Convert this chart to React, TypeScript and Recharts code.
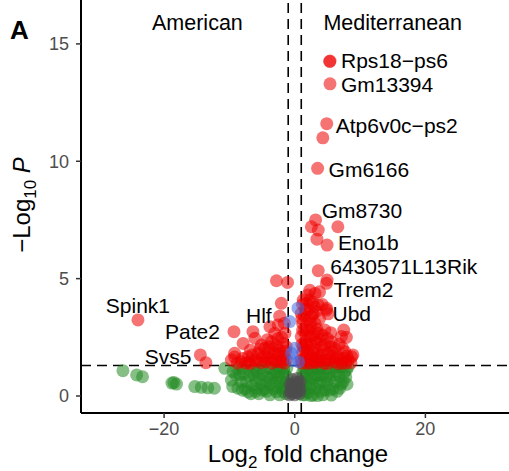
import React from 'react';
import { ScatterChart, Scatter, XAxis, YAxis, ReferenceLine, Label } from 'recharts';

type Pt = { x: number; y: number };
const pts = (a: number[][]): Pt[] => a.map(([x, y]) => ({ x, y }));

// log2FC and p-value significant
const sigPoints = pts([
  [5.4, 14.27], [5.35, 14.25], [5.4, 13.3], [4.9, 11.6], [4.3, 11.0], [3.5, 9.7],
  [3.2, 7.5], [2.55, 7.21], [3.6, 7.07], [3.4, 6.68], [6.6, 7.21], [4.95, 6.43],
  [3.6, 5.34], [4.95, 4.94], [4.86, 4.8], [-2.8, 4.91], [-1.1, 4.84],
  [2.3, 4.5], [3.8, 4.44], [3.1, 4.37], [2.0, 4.3], [1.3, 4.09], [3.6, 3.88], [4.86, 3.66], [5.1, 3.5], [4.86, 3.74],
  [1.0, 3.52], [2.0, 3.66], [2.0, 3.24], [3.1, 3.1], [1.2, 3.1], [2.3, 4.09], [1.8, 3.95],
  [-2.3, 3.4], [-2.55, 3.03], [-2.05, 3.95], [-3.8, 2.95], [-3.07, 2.67], [-1.5, 2.67], [-3.6, 2.31],
  [-1.8, 2.24], [-2.3, 1.96], [-4.6, 2.03], [-9.3, 2.74], [-6.4, 2.74], [-6.1, 2.46], [-7.9, 2.24], [-5.1, 2.17],
  [-24, 3.24], [-14.45, 1.75], [-13.6, 1.42],
  [4.6, 2.81], [7.5, 2.81], [7.15, 2.53], [7.9, 2.5], [5.6, 2.31], [7.66, 1.89], [8.9, 1.75], [8.7, 1.67],
  [6.1, 2.03], [1.5, 2.81], [3.1, 2.39], [4.1, 2.1], [5.1, 1.82], [6.6, 1.67], [8.2, 1.53], [1.3, 2.1],
  [1.0, 1.53], [2.6, 1.67], [4.1, 1.53], [6.1, 1.46], [1.0, 2.53], [2.3, 2.53], [3.6, 2.67],
  [-9.2, 1.66], [-9.2, 1.82], [-9.7, 1.53], [-8.2, 1.46], [-7.15, 1.67], [-6.1, 1.53], [-5.6, 1.82],
  [-4.6, 1.67], [-4.1, 1.6], [-3.07, 1.82], [-2.05, 1.67],
  [-7.5, 1.4], [-6.8, 1.38], [-5.2, 1.42], [-3.5, 1.4], [-2.6, 1.45], [-1.6, 1.4], [1.8, 1.4], [3.3, 1.42],
  [5.0, 1.38], [7.2, 1.4], [8.6, 1.42],
  [-6.8, 1.95], [-5.3, 2.0], [-3.9, 2.1], [-2.8, 2.15], [-1.4, 1.9], [-1.3, 1.55],
  [2.0, 1.95], [3.0, 2.0], [5.5, 2.1], [6.8, 2.2], [7.3, 2.05], [2.6, 2.9], [3.8, 3.3], [1.5, 3.4],
  [4.2, 2.6], [5.5, 2.7], [2.8, 3.5], [4.2, 3.9], [1.6, 2.3], [3.5, 1.8], [4.8, 1.55], [5.8, 1.7],
  [7.0, 1.55], [8.0, 1.7], [1.2, 1.85], [2.2, 1.55], [3.0, 1.45],
  [-8.8, 1.4], [-8.0, 1.6], [-7.0, 1.45], [-6.5, 1.75], [-5.8, 1.5], [-5.0, 1.65], [-4.5, 1.45],
  [-4.0, 1.85], [-3.6, 1.55], [-3.0, 1.5], [-2.5, 1.8], [-2.0, 1.45], [-1.6, 1.7], [-1.3, 2.1],
  [-2.0, 2.5], [-2.6, 2.45], [-1.6, 3.1], [-4.2, 2.4], [-3.3, 2.0],
  [1.1, 1.4], [1.5, 1.6], [1.9, 1.75], [2.4, 1.4], [2.8, 1.85], [3.2, 1.6], [3.7, 1.5], [4.0, 1.75],
  [4.5, 1.4], [4.4, 1.95], [5.3, 1.55], [5.7, 1.9], [6.3, 1.6], [6.6, 1.38], [7.5, 1.6], [7.8, 1.4],
  [1.1, 2.2], [1.5, 2.0], [1.9, 2.2], [2.5, 2.2], [3.3, 2.3], [3.9, 2.4], [4.6, 2.2], [5.0, 2.45],
  [1.2, 2.8], [1.7, 2.6], [2.1, 2.8], [2.9, 2.6], [3.4, 2.85], [1.1, 3.3], [1.6, 3.7], [2.4, 3.1],
  [2.6, 3.4], [3.3, 3.6], [1.2, 3.9], [2.7, 4.0], [3.0, 3.8],
]);

// log2FC only
const fcPoints = pts([
  [-26.3, 1.08], [-24.2, 0.9], [-23.3, 0.82], [-18.5, 0.57], [-18.1, 0.51], [-18.8, 0.55],
  [-15.3, 0.4], [-14.3, 0.37], [-13.3, 0.35], [-12.3, 0.33],
  [-10.7, 1.18], [-9.45, 1.04], [-9.7, 0.68], [-8.7, 0.33], [-8.4, 0.89], [-6.9, 1.1], [-7.4, 0.61],
  [-7.15, 0.18], [-5.9, 0.33], [-5.4, 0.75], [-4.86, 1.1], [-3.8, 0.47], [-3.3, 0.89], [-2.8, 0.18],
  [-2.3, 1.18], [-2.05, 0.61], [-1.5, 0.33],
  [-8.0, 1.2], [-7.8, 0.95], [-6.3, 0.9], [-6.5, 0.45], [-5.0, 0.5], [-4.3, 0.2], [-4.1, 0.8], [-3.5, 1.15],
  [-2.5, 0.8], [-1.6, 0.95], [-1.3, 0.6], [-1.2, 1.2], [-1.4, 0.1], [-3.2, 0.3], [-5.5, 0.1], [-6.2, 1.2],
  [-8.2, 0.6], [-9.0, 0.9], [-5.8, 1.0], [-4.6, 0.3], [-3.0, 0.6], [-2.0, 0.35], [-2.3, 0.05], [-3.8, 0.05],
  [-6.0, 0.2],
  [-9.5, 0.4], [-8.8, 1.15], [-8.0, 0.25], [-7.6, 0.3], [-7.0, 0.85], [-6.7, 0.1], [-6.0, 0.65],
  [-5.2, 1.2], [-5.0, 0.9], [-4.4, 0.6], [-4.0, 1.2], [-3.6, 0.75], [-3.0, 1.0], [-2.7, 0.4], [-2.2, 0.85],
  [-1.8, 0.2], [-1.7, 1.15], [-1.3, 0.85], [-1.2, 0.35], [-2.6, 1.25], [-4.9, 0.25],
  [1.8, 1.18], [3.3, 0.89], [4.86, 1.18], [6.4, 1.04], [7.9, 1.1], [7.4, 0.61], [6.9, 0.33], [5.6, 0.04],
  [4.6, 0.26], [3.8, 0.54], [2.3, 0.33], [2.8, 0.04], [1.3, 0.61], [5.4, 0.75], [8.2, 1.25],
  [1.2, 1.0], [1.5, 0.2], [2.5, 0.75], [2.8, 1.2], [3.6, 1.15], [4.0, 0.2], [4.2, 0.9], [5.0, 0.5],
  [5.8, 1.2], [6.2, 0.6], [6.8, 0.85], [7.2, 1.25], [1.7, 0.45], [2.1, 0.95], [3.2, 0.3], [4.4, 0.6],
  [5.9, 0.3], [7.8, 0.8], [1.2, 0.05], [3.5, 0.02],
  [1.1, 0.3], [1.3, 0.85], [1.4, 1.2], [1.9, 0.7], [2.0, 0.15], [2.4, 1.1], [2.6, 0.5], [3.0, 0.8],
  [3.3, 1.25], [3.4, 0.55], [3.8, 0.9], [4.1, 1.2], [4.3, 0.05], [4.8, 0.8], [5.2, 1.0], [5.3, 0.25],
  [6.0, 0.9], [6.5, 0.2], [6.6, 1.25], [7.1, 0.5], [7.6, 1.0], [8.0, 0.5], [1.6, 0.05], [2.5, 0.02],
]);

// not significant
const nsPoints = pts([
  [-0.5, 0.1], [0.3, 0.15], [-0.2, 0.35], [0.6, 0.4], [-0.7, 0.5], [0.1, 0.6], [0.4, 0.75], [-0.4, 0.7],
  [-0.6, 0.2], [0.8, 0.25], [0, 0.05], [-0.8, 0.05], [0.7, 0.1], [-0.3, 0.5], [0.5, 0.55], [0, 0.3],
  [-0.1, 0.15], [0.2, 0.4], [-0.5, 0.35], [0.8, 0.6],
]);

// p-value only
const pPoints = pts([[0.5, 3.74], [-0.77, 3.17], [-0.5, 1.82], [0, 2.03], [-0.3, 1.5], [0.6, 1.45]]);

const geneLabels = [
  { gene: 'Rps18\u2212ps6', x: 5.4, y: 14.27 },
  { gene: 'Gm13394', x: 5.4, y: 13.3 },
  { gene: 'Atp6v0c\u2212ps2', x: 4.9, y: 11.6 },
  { gene: 'Gm6166', x: 3.5, y: 9.7 },
  { gene: 'Gm8730', x: 3.2, y: 7.5 },
  { gene: 'Eno1b', x: 4.95, y: 6.43 },
  { gene: '6430571L13Rik', x: 3.6, y: 5.34 },
  { gene: 'Trem2', x: 3.8, y: 4.44 },
  { gene: 'Ubd', x: 4.86, y: 3.66 },
  { gene: 'Hlf', x: -2.3, y: 3.4 },
  { gene: 'Pate2', x: -9.3, y: 2.74 },
  { gene: 'Svs5', x: -14.45, y: 1.75 },
  { gene: 'Spink1', x: -24, y: 3.24 },
];

const groupLabels = [
  { name: 'American', x: -14.9, y: 15.93 },
  { name: 'Mediterranean', x: 15.0, y: 15.93 },
];

const xTicks = [-20, 0, 20];
const yTicks = [0, 5, 10, 15];
const fcCut = 1;
const pCut = 1.3;

// pixel offsets of gene labels from their points
const labelOffsets: Record<string, [number, number, string]> = {
  'Rps18\u2212ps6': [11, 0, 'start'],
  Gm13394: [11, 1, 'start'],
  'Atp6v0c\u2212ps2': [9, 2, 'start'],
  Gm6166: [11, 1, 'start'],
  Gm8730: [6, -9, 'start'],
  Eno1b: [11, -2, 'start'],
  '6430571L13Rik': [12, -4, 'start'],
  Trem2: [14, -2, 'start'],
  Ubd: [6, 4, 'start'],
  Hlf: [-8, -1, 'end'],
  Pate2: [-14, 0, 'end'],
  Svs5: [-9, 2, 'end'],
  Spink1: [0, -14, 'middle'],
};

const FONT = '"Liberation Sans", Arial, sans-serif';

const dot = (fill: string, op: number) => (p: any) => (
  <circle cx={p.cx} cy={p.cy} r={6.5} fill={fill} fillOpacity={op} />
);

const geneText = (p: any) => {
  const [dx, dy, anchor] = labelOffsets[p.payload.gene];
  return (
    <text x={p.cx + dx} y={p.cy + dy} dy="0.35em" textAnchor={anchor as any} fontSize={21} fontFamily={FONT} fill="#000">
      {p.payload.gene}
    </text>
  );
};

const groupText = (p: any) => (
  <text x={p.cx} y={p.cy} dy="0.35em" textAnchor="middle" fontSize={21.5} fontFamily={FONT} fill="#000">
    {p.payload.name}
  </text>
);

const fmt = (v: number) => (v < 0 ? `\u2212${Math.abs(v)}` : `${v}`);
const tickStyle = { fontSize: 18, fill: '#4D4D4D', fontFamily: FONT };

export default function App() {
  return (
    <div style={{ position: 'absolute', left: 0, top: 0, background: '#fff' }}>
      <ScatterChart width={509} height={471} margin={{ top: 0, right: 0, bottom: 0, left: 0 }}>
        <XAxis
          type="number"
          dataKey="x"
          domain={[-32.72, 32.8]}
          ticks={xTicks}
          tickFormatter={fmt}
          height={58}
          allowDataOverflow
          tick={tickStyle}
          tickSize={5}
          tickMargin={4}
          axisLine={{ stroke: '#000', strokeWidth: 2 }}
          tickLine={{ stroke: '#333', strokeWidth: 1.5 }}
        >
          <Label
            content={() => (
              <text x={298} y={462} textAnchor="middle" fontSize={24} fontFamily={FONT} fill="#000">
                Log<tspan dy={6} fontSize={17}>2</tspan>
                <tspan dy={-6}> fold change</tspan>
              </text>
            )}
          />
        </XAxis>
        <YAxis
          type="number"
          dataKey="y"
          domain={[-0.724, 16.87]}
          ticks={yTicks}
          width={81}
          allowDataOverflow
          tick={tickStyle}
          tickSize={5}
          tickMargin={7}
          axisLine={{ stroke: '#000', strokeWidth: 2 }}
          tickLine={{ stroke: '#333', strokeWidth: 1.5 }}
        >
          <Label
            content={() => (
              <g>
                <text x={10} y={39} fontSize={26} fontWeight="bold" fontFamily={FONT} fill="#000">A</text>
                <text x={30} y={205} transform="rotate(-90 30 205)" textAnchor="middle" fontSize={24} fontFamily={FONT} fill="#000">
                  {'\u2212Log'}<tspan dy={6} fontSize={17}>10</tspan>
                  <tspan dy={-6}> </tspan>
                  <tspan fontStyle="italic">P</tspan>
                </text>
              </g>
            )}
          />
        </YAxis>
        <Scatter data={fcPoints} shape={dot('#228B22', 0.55)} isAnimationActive={false} />
        <Scatter data={nsPoints} shape={dot('#4D4D4D', 0.6)} isAnimationActive={false} />
        <Scatter data={sigPoints} shape={dot('#EE0000', 0.55)} isAnimationActive={false} />
        <Scatter data={pPoints} shape={dot('#4169E1', 0.55)} isAnimationActive={false} />
        <ReferenceLine x={-fcCut} stroke="#000" strokeWidth={1.6} strokeDasharray="10 6" />
        <ReferenceLine x={fcCut} stroke="#000" strokeWidth={1.6} strokeDasharray="10 6" />
        <ReferenceLine y={pCut} stroke="#000" strokeWidth={1.6} strokeDasharray="10 6" />
        <Scatter data={geneLabels} shape={geneText} isAnimationActive={false} />
        <Scatter data={groupLabels} shape={groupText} isAnimationActive={false} />
      </ScatterChart>
    </div>
  );
}
